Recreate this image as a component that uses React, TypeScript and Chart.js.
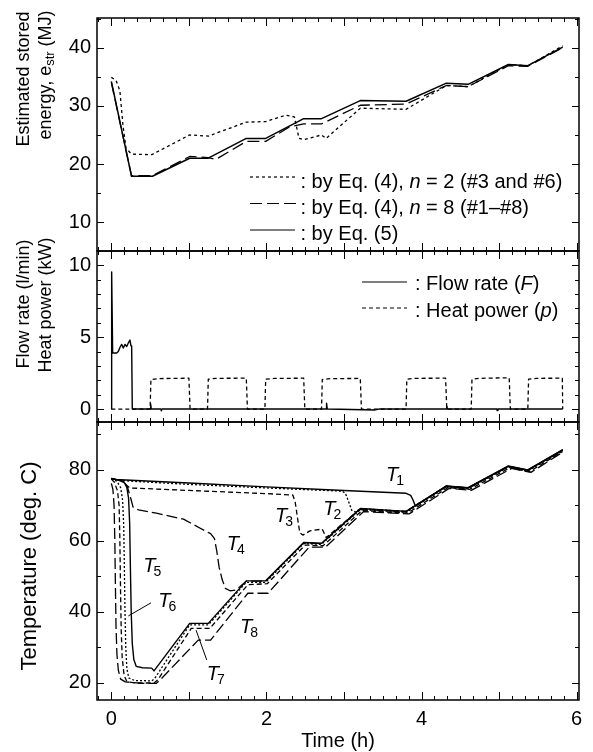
import React, { useEffect, useRef } from "react";
import { Chart, registerables } from "chart.js";

Chart.register(...registerables);

const FONT = "'Liberation Sans', Arial, Helvetica, sans-serif";

// ---------------- axes / tick labels ----------------
const xTickLabels = [0, 2, 4, 6];
const estTicks = [10, 20, 30, 40];
const estMinor = [5, 15, 25, 35, 45];
const flowTicks = [0, 5, 10];
const flowMinor = [1, 2, 3, 4, 6, 7, 8, 9, 11];
const tempTicks = [20, 40, 60, 80];
const tempMinor = [30, 50, 70, 90];

// ---------------- top panel: estimated stored energy (MJ) ----------------
const estN2: [number, number][] = [
  [0, 34.9], [0.06, 34.4], [0.11, 32.6], [0.15, 26.6], [0.19, 22.7], [0.26, 21.7], [0.52, 21.6],
  [1.01, 25.0], [1.25, 24.8], [1.74, 27.2], [1.99, 27.3], [2.25, 28.4], [2.36, 28.1], [2.42, 24.4],
  [2.48, 24.2], [2.71, 25.0], [2.77, 24.4], [3.21, 29.6], [3.80, 29.4], [4.32, 33.5], [4.60, 33.3],
  [5.12, 37.1], [5.37, 36.9], [5.82, 40.3],
];
const estN8: [number, number][] = [
  [0, 34.0], [0.26, 18.0], [0.53, 18.0], [1.01, 21.3], [1.25, 21.1], [1.35, 20.8], [1.74, 23.9],
  [1.99, 23.9], [2.3, 26.4], [2.48, 26.9], [2.71, 26.9], [3.21, 30.1], [3.80, 30.3], [4.32, 33.5],
  [4.60, 33.3], [5.12, 36.9], [5.37, 36.8], [5.82, 40.0],
];
const estEq5: [number, number][] = [
  [0, 34.2], [0.26, 17.9], [0.53, 17.9], [1.01, 21.0], [1.25, 21.0], [1.74, 24.4], [1.99, 24.4],
  [2.48, 27.8], [2.71, 27.8], [3.21, 30.9], [3.80, 30.8], [4.32, 33.9], [4.60, 33.7], [5.12, 37.1],
  [5.37, 36.9], [5.82, 40.1],
];

// ---------------- middle panel: flow rate (l/min), heat power (kW) ----------------
const flowRate: [number, number][] = [
  [0, 0], [0.004, 9.55], [0.017, 3.9], [0.069, 3.9], [0.09, 4.0], [0.112, 4.3], [0.133, 4.5],
  [0.154, 4.25], [0.176, 4.5], [0.198, 4.35], [0.219, 4.6], [0.24, 4.8], [0.253, 4.4], [0.262, 4.4],
  [0.27, 0], [0.5, 0], [0.507, 0.35], [0.515, 0], [0.64, 0], [0.645, -0.12], [0.655, 0], [2.77, 0],
  [2.775, 0.4], [2.785, 0], [3.4, -0.06], [3.45, 0], [4.32, 0], [4.325, 0.2], [4.335, 0], [4.97, 0],
  [4.975, -0.1], [4.985, 0], [5.82, 0],
];
const heatPower: [number, number][] = [
  [0, 0], [0.5, 0], [0.51, 2.05], [0.6, 2.12], [1.0, 2.15], [1.015, 0],
  [1.24, 0], [1.25, 2.08], [1.35, 2.14], [1.74, 2.15], [1.755, 0],
  [1.98, 0], [1.99, 2.08], [2.1, 2.13], [2.48, 2.15], [2.495, 0],
  [2.71, 0], [2.72, 2.05], [2.82, 2.12], [3.21, 2.13], [3.225, 0],
  [3.80, 0], [3.81, 2.08], [3.9, 2.14], [4.31, 2.15], [4.325, 0],
  [4.64, 0], [4.65, 2.08], [4.75, 2.14], [5.13, 2.18], [5.145, 0],
  [5.37, 0], [5.38, 2.08], [5.48, 2.14], [5.815, 2.15], [5.82, 0],
];

// ---------------- bottom panel: temperatures (deg. C) ----------------
const temp1: [number, number][] = [
  [0, 77.6], [0.05, 77.3], [1.0, 76.3], [2.0, 75.2], [3.0, 74.2], [3.8, 73.4], [3.86, 72.8],
  [3.89, 71.5], [3.92, 69.8], [4.32, 75.5], [4.60, 75.0], [5.12, 81.1], [5.37, 80.0], [5.82, 85.7],
];
const temp2: [number, number][] = [
  [0, 77.5], [0.1, 77.0], [1.0, 75.9], [2.0, 74.9], [2.98, 74.0], [3.02, 73.3], [3.06, 71.0],
  [3.1, 68.6], [3.15, 68.1], [3.21, 69.1], [3.80, 68.3], [4.32, 75.4], [4.60, 74.9], [5.12, 81.0],
  [5.37, 79.9], [5.82, 85.6],
];
const temp3: [number, number][] = [
  [0, 77.5], [0.15, 76.9], [0.19, 75.8], [0.24, 74.9], [1.0, 74.2], [2.0, 73.3], [2.34, 72.9],
  [2.37, 71.0], [2.4, 66.5], [2.43, 62.3], [2.47, 61.6], [2.56, 62.8], [2.72, 63.3], [2.77, 60.9],
  [3.21, 69.0], [3.80, 68.3], [4.32, 75.4], [4.60, 74.9], [5.12, 81.0], [5.37, 79.9], [5.82, 85.6],
];
const temp4: [number, number][] = [
  [0, 77.5], [0.16, 76.8], [0.21, 75.0], [0.25, 72.0], [0.28, 69.5], [0.35, 68.7], [0.58, 67.8],
  [0.93, 66.1], [1.14, 63.6], [1.28, 62.0], [1.33, 60.6], [1.36, 57.0], [1.39, 52.5], [1.43, 49.0],
  [1.47, 46.6], [1.53, 45.9], [1.6, 46.1], [1.66, 47.1], [1.74, 48.6], [1.99, 48.6], [2.48, 59.4],
  [2.71, 59.2], [3.21, 68.9], [3.80, 68.2], [4.32, 75.3], [4.60, 74.8], [5.12, 80.9], [5.37, 79.8],
  [5.82, 85.5],
];
const temp5: [number, number][] = [
  [0, 77.6], [0.1, 77.1], [0.17, 76.3], [0.2, 75.0], [0.222, 72.0], [0.236, 65], [0.246, 52],
  [0.256, 40], [0.27, 31], [0.29, 26.5], [0.32, 24.6], [0.4, 24.2], [0.52, 24.1], [0.55, 23.3],
  [1.01, 36.7], [1.25, 36.7], [1.74, 48.7], [1.99, 48.7], [2.48, 59.5], [2.71, 59.3], [3.21, 69.1],
  [3.80, 68.3], [4.32, 75.4], [4.60, 74.9], [5.12, 81.0], [5.37, 79.9], [5.82, 85.6],
];
const temp6: [number, number][] = [
  [0, 77.5], [0.07, 76.8], [0.12, 75.0], [0.145, 71.5], [0.16, 64], [0.168, 52], [0.176, 40],
  [0.186, 30], [0.2, 24], [0.225, 21.3], [0.3, 20.6], [0.52, 20.5], [0.56, 21.2], [1.01, 36.3],
  [1.25, 36.3], [1.74, 48.3], [1.99, 48.3], [2.48, 59.2], [2.71, 59.0], [3.21, 68.8], [3.80, 68.0],
  [4.32, 75.2], [4.60, 74.7], [5.12, 80.8], [5.37, 79.7], [5.82, 85.4],
];
const temp7: [number, number][] = [
  [0, 77.4], [0.04, 76.5], [0.08, 74.0], [0.1, 70], [0.11, 60], [0.118, 47], [0.127, 35],
  [0.14, 27], [0.165, 22], [0.2, 20.3], [0.3, 19.9], [0.55, 19.9], [0.6, 20.8], [1.03, 35.3],
  [1.27, 35.3], [1.76, 47.6], [2.01, 47.9], [2.5, 58.8], [2.73, 58.6], [3.23, 68.5], [3.82, 67.8],
  [4.34, 75.0], [4.62, 74.5], [5.14, 80.6], [5.39, 79.5], [5.82, 85.2],
];
const temp8: [number, number][] = [
  [0, 76.2], [0.02, 74.5], [0.035, 70], [0.045, 60], [0.052, 48], [0.06, 36], [0.072, 28],
  [0.09, 23.5], [0.12, 21], [0.18, 20.2], [0.4, 19.8], [0.58, 19.8], [0.64, 21.0], [1.12, 32.0],
  [1.28, 32.0], [1.76, 45.2], [2.02, 45.2], [2.55, 58.2], [2.76, 58.2], [3.25, 68.2], [3.84, 67.6],
  [4.36, 74.8], [4.64, 74.2], [5.16, 80.4], [5.41, 79.3], [5.82, 85.0],
];

// curve labels (data coordinates: time, temperature)
const curveLabelSub = ["1", "2", "3", "4", "5", "6", "7", "8"];
const curveLabelTime = [3.542, 2.733, 2.11, 1.487, 0.412, 0.606, 1.23, 1.659];
const curveLabelTemp = [76.95, 67.3, 65.4, 57.4, 51.3, 41.4, 20.7, 33.9];
// leader lines for T6 and T7 (data coordinates)
const leaderT6: [number, number][] = [[0.511, 42.5], [0.219, 38.8]];
const leaderT7: [number, number][] = [[1.23, 26.4], [1.092, 34.8]];

// ---------------- layout constants ----------------
const W = 593;
const H = 752;
const PLOT_LEFT = 97;
const PLOT_RIGHT = 579;
const X_MIN = -0.185;
const X_MAX = 6.03;
const PANEL_TOP = [8, 251, 422];
const PANEL_BOTTOM = [251, 422, 700];

type Part = { t: string; i?: boolean; sub?: boolean };

function partFont(p: Part, size: number) {
  const fs = p.sub ? Math.round(size * 0.7) : size;
  return `${p.i ? "italic " : ""}${fs}px ${FONT}`;
}
function measureRich(ctx: CanvasRenderingContext2D, parts: Part[], size: number) {
  let w = 0;
  for (const p of parts) {
    ctx.font = partFont(p, size);
    w += ctx.measureText(p.t).width;
  }
  return w;
}
function drawRich(ctx: CanvasRenderingContext2D, x: number, y: number, parts: Part[], size: number) {
  let cx = x;
  ctx.textAlign = "left";
  ctx.textBaseline = "alphabetic";
  for (const p of parts) {
    ctx.font = partFont(p, size);
    ctx.fillText(p.t, cx, p.sub ? y + size * 0.22 : y);
    cx += ctx.measureText(p.t).width;
  }
}
function drawRotated(ctx: CanvasRenderingContext2D, baseX: number, centerY: number, parts: Part[], size: number) {
  ctx.save();
  ctx.translate(baseX, centerY);
  ctx.rotate(-Math.PI / 2);
  const w = measureRich(ctx, parts, size);
  drawRich(ctx, -w / 2, 0, parts, size);
  ctx.restore();
}

function drawFrame(chart: any, yMajor: number[], yMinor: number[]) {
  const { ctx, chartArea: a, scales } = chart;
  const xs = scales.x;
  const ys = scales.y;
  ctx.save();
  ctx.strokeStyle = "#000";
  ctx.lineWidth = 1;
  ctx.setLineDash([]);
  ctx.beginPath();
  for (let k = Math.ceil(X_MIN * 6); k <= Math.floor(X_MAX * 6); k++) {
    const px = Math.round(xs.getPixelForValue(k / 6)) + 0.5;
    const len = k % 6 === 0 ? 8 : 4;
    ctx.moveTo(px, a.top);
    ctx.lineTo(px, a.top + len);
    ctx.moveTo(px, a.bottom);
    ctx.lineTo(px, a.bottom - len);
  }
  const yTick = (v: number, len: number) => {
    if (v < ys.min || v > ys.max) return;
    const py = Math.round(ys.getPixelForValue(v)) + 0.5;
    ctx.moveTo(a.left, py);
    ctx.lineTo(a.left + len, py);
    ctx.moveTo(a.right, py);
    ctx.lineTo(a.right - len, py);
  };
  yMajor.forEach((v) => yTick(v, 7));
  yMinor.forEach((v) => yTick(v, 4));
  ctx.stroke();
  ctx.lineWidth = 1.5;
  ctx.strokeRect(a.left, a.top, a.right - a.left, a.bottom - a.top);
  ctx.restore();
}

function legendSample(ctx: CanvasRenderingContext2D, x1: number, x2: number, y: number, dash: number[]) {
  ctx.save();
  ctx.strokeStyle = "#000";
  ctx.lineWidth = 1.2;
  ctx.setLineDash(dash);
  ctx.beginPath();
  ctx.moveTo(x1, y);
  ctx.lineTo(x2, y);
  ctx.stroke();
  ctx.restore();
}

const DASH_N2 = [3, 3];
const DASH_N8 = [12, 5];
const DASH_HEAT = [4, 3];
const DASH_DOT = [2, 2];
const DASH_MED = [5, 3];
const DASH_LONG = [11, 4];

function line(points: [number, number][], dash: number[], width = 1.3) {
  return {
    data: points.map(([x, y]) => ({ x, y })),
    borderColor: "#000",
    borderWidth: width,
    borderDash: dash,
    pointRadius: 0,
    fill: false,
    tension: 0,
    borderJoinStyle: "round" as const,
  };
}

function makeOptions(panel: number, yMin: number, yMax: number, yTicks: number[], showX: boolean) {
  return {
    responsive: false,
    animation: false as const,
    events: [] as any[],
    layout: {
      padding: {
        top: PANEL_TOP[panel],
        bottom: showX ? 0 : H - PANEL_BOTTOM[panel],
        left: 0,
        right: W - PLOT_RIGHT,
      },
    },
    plugins: { legend: { display: false }, tooltip: { enabled: false }, title: { display: false } },
    scales: {
      x: {
        type: "linear" as const,
        min: X_MIN,
        max: X_MAX,
        display: showX,
        grid: { display: false, drawTicks: false },
        border: { display: false },
        ticks: { font: { size: 20, family: FONT }, color: "#000", padding: 7, maxRotation: 0, autoSkip: false },
        afterBuildTicks: (s: any) => {
          s.ticks = xTickLabels.map((v) => ({ value: v }));
        },
        afterFit: (s: any) => {
          s.height = showX ? H - PANEL_BOTTOM[2] : 0;
        },
      },
      y: {
        type: "linear" as const,
        min: yMin,
        max: yMax,
        grid: { display: false, drawTicks: false },
        border: { display: false },
        ticks: { font: { size: 20, family: FONT }, color: "#000", padding: 6, autoSkip: false },
        afterBuildTicks: (s: any) => {
          s.ticks = yTicks.map((v) => ({ value: v }));
        },
        afterFit: (s: any) => {
          s.width = PLOT_LEFT;
        },
      },
    },
  };
}

function topConfig(): any {
  return {
    type: "line",
    data: {
      datasets: [line(estN2, DASH_N2), line(estN8, DASH_N8), line(estEq5, [], 1.5)],
    },
    options: makeOptions(0, 5.05, 45.1, estTicks, false),
    plugins: [
      {
        id: "topDeco",
        afterDatasetsDraw(chart: any) {
          const ctx = chart.ctx as CanvasRenderingContext2D;
          drawFrame(chart, estTicks, estMinor);
          ctx.save();
          ctx.fillStyle = "#000";
          legendSample(ctx, 250, 297, 177, DASH_N2);
          drawRich(ctx, 300.5, 187.5, [{ t: ": by Eq. (4), " }, { t: "n", i: true }, { t: " = 2 (#3 and #6)" }], 20);
          legendSample(ctx, 250, 296, 203.5, DASH_N8);
          drawRich(ctx, 300.5, 214, [{ t: ": by Eq. (4), " }, { t: "n", i: true }, { t: " = 8 (#1\u2013#8)" }], 20);
          legendSample(ctx, 250, 295, 230, []);
          drawRich(ctx, 300.5, 240, [{ t: ": by Eq. (5)" }], 20);
          drawRotated(ctx, 28.5, 79, [{ t: "Estimated stored" }], 18);
          drawRotated(ctx, 50.5, 75, [{ t: "energy, e" }, { t: "str", sub: true }, { t: " (MJ)" }], 18);
          ctx.restore();
        },
      },
    ],
  };
}

function midConfig(): any {
  return {
    type: "line",
    data: {
      datasets: [line(heatPower, DASH_HEAT), line(flowRate, [], 1.4)],
    },
    options: makeOptions(1, -0.9, 11.0, flowTicks, false),
    plugins: [
      {
        id: "midDeco",
        afterDatasetsDraw(chart: any) {
          const ctx = chart.ctx as CanvasRenderingContext2D;
          drawFrame(chart, flowTicks, flowMinor);
          ctx.save();
          ctx.fillStyle = "#000";
          legendSample(ctx, 362, 407, 282, []);
          drawRich(ctx, 415, 290, [{ t: ": Flow rate (" }, { t: "F", i: true }, { t: ")" }], 20);
          legendSample(ctx, 362, 407, 308, DASH_HEAT);
          drawRich(ctx, 415, 316.5, [{ t: ": Heat power (" }, { t: "p", i: true }, { t: ")" }], 20);
          drawRotated(ctx, 29, 304, [{ t: "Flow rate (l/min)" }], 18);
          drawRotated(ctx, 51, 305, [{ t: "Heat power (kW)" }], 18);
          ctx.restore();
        },
      },
    ],
  };
}

function botConfig(): any {
  return {
    type: "line",
    data: {
      datasets: [
        line(temp8, DASH_LONG),
        line(temp7, DASH_MED),
        line(temp6, DASH_DOT),
        line(temp5, [], 1.4),
        line(temp4, DASH_LONG),
        line(temp3, DASH_MED),
        line(temp2, DASH_DOT),
        line(temp1, [], 1.4),
      ],
    },
    options: makeOptions(2, 15.1, 93.5, tempTicks, true),
    plugins: [
      {
        id: "botDeco",
        afterDatasetsDraw(chart: any) {
          const ctx = chart.ctx as CanvasRenderingContext2D;
          const xs = chart.scales.x;
          const ys = chart.scales.y;
          drawFrame(chart, tempTicks, tempMinor);
          ctx.save();
          ctx.fillStyle = "#000";
          ctx.strokeStyle = "#000";
          ctx.lineWidth = 1;
          ctx.setLineDash([]);
          for (const ld of [leaderT6, leaderT7]) {
            ctx.beginPath();
            ctx.moveTo(xs.getPixelForValue(ld[0][0]), ys.getPixelForValue(ld[0][1]));
            ctx.lineTo(xs.getPixelForValue(ld[1][0]), ys.getPixelForValue(ld[1][1]));
            ctx.stroke();
          }
          for (let i = 0; i < curveLabelSub.length; i++) {
            const px = xs.getPixelForValue(curveLabelTime[i]);
            const py = ys.getPixelForValue(curveLabelTemp[i]);
            ctx.textAlign = "left";
            ctx.textBaseline = "alphabetic";
            ctx.font = `italic 20px ${FONT}`;
            ctx.fillText("T", px, py);
            const w = ctx.measureText("T").width;
            ctx.font = `14px ${FONT}`;
            ctx.fillText(curveLabelSub[i], px + w - 2, py + 4);
          }
          drawRotated(ctx, 36, 566, [{ t: "Temperature (deg. C)" }], 22);
          ctx.font = `20px ${FONT}`;
          ctx.textAlign = "center";
          ctx.textBaseline = "alphabetic";
          ctx.fillText("Time (h)", (chart.chartArea.left + chart.chartArea.right) / 2, 747);
          ctx.restore();
        },
      },
    ],
  };
}

export default function App() {
  const r1 = useRef<HTMLCanvasElement>(null);
  const r2 = useRef<HTMLCanvasElement>(null);
  const r3 = useRef<HTMLCanvasElement>(null);

  useEffect(() => {
    Chart.defaults.font.family = FONT;
    Chart.defaults.color = "#000";
    const charts = [
      new Chart(r1.current as HTMLCanvasElement, topConfig()),
      new Chart(r2.current as HTMLCanvasElement, midConfig()),
      new Chart(r3.current as HTMLCanvasElement, botConfig()),
    ];
    return () => charts.forEach((c) => c.destroy());
  }, []);

  const cs: React.CSSProperties = { position: "absolute", left: 0, top: 0, width: W, height: H };
  return (
    <div style={{ position: "absolute", left: 0, top: 0, width: W, height: H, background: "#fff", overflow: "hidden" }}>
      <canvas ref={r1} width={W} height={H} style={cs} />
      <canvas ref={r2} width={W} height={H} style={cs} />
      <canvas ref={r3} width={W} height={H} style={cs} />
    </div>
  );
}
